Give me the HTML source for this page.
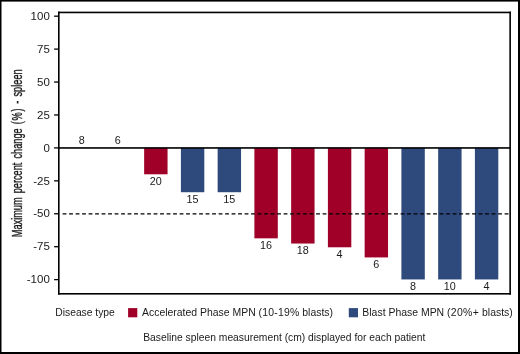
<!DOCTYPE html>
<html>
<head>
<meta charset="utf-8">
<title>Maximum percent change - spleen</title>
<style>
html,body{margin:0;padding:0;background:#fff;}
body{width:520px;height:354px;overflow:hidden;}
svg{display:block;}
text{font-family:"Liberation Sans",Arial,Helvetica,sans-serif;fill:#1a1a1a;}
.t{font-size:10.3px;text-anchor:end;}
.b{font-size:10.2px;text-anchor:middle;}
.l{font-size:10.45px;}
.c{font-size:10.3px;}
</style>
</head>
<body>
<svg width="520" height="354" viewBox="0 0 520 354">
<rect x="0" y="0" width="520" height="354" fill="#ffffff"/>
<!-- outer border -->
<rect x="0" y="0" width="520" height="1.6" fill="#000"/>
<rect x="0" y="0" width="1.5" height="354" fill="#000"/>
<rect x="518" y="0" width="2" height="354" fill="#000"/>
<rect x="0" y="352" width="520" height="2" fill="#000"/>

<!-- bars -->
<rect x="144.15" y="147.95" width="23.40" height="26.35" fill="#a00028"/>
<rect x="180.90" y="147.95" width="23.40" height="44.27" fill="#2e4a7c"/>
<rect x="217.65" y="147.95" width="23.40" height="44.27" fill="#2e4a7c"/>
<rect x="254.40" y="147.95" width="23.40" height="90.38" fill="#a00028"/>
<rect x="291.15" y="147.95" width="23.40" height="95.58" fill="#a00028"/>
<rect x="327.90" y="147.95" width="23.40" height="99.34" fill="#a00028"/>
<rect x="364.65" y="147.95" width="23.40" height="109.48" fill="#a00028"/>
<rect x="401.40" y="147.95" width="23.40" height="131.49" fill="#2e4a7c"/>
<rect x="438.15" y="147.95" width="23.40" height="131.49" fill="#2e4a7c"/>
<rect x="474.90" y="147.95" width="23.40" height="131.49" fill="#2e4a7c"/>
<!-- reference line -->
<line x1="62.6" y1="213.8" x2="509.5" y2="213.8" stroke="#000" stroke-width="1.35" stroke-dasharray="3.85 2.65"/>
<!-- zero line -->
<rect x="59" y="147.15" width="451" height="1.6" fill="#000"/>
<!-- frame -->
<rect x="58" y="11.65" width="452.95" height="1.6" fill="#000"/>
<rect x="58" y="11.65" width="1.6" height="282.95" fill="#000"/>
<rect x="509.35" y="11.65" width="1.6" height="282.95" fill="#000"/>
<rect x="58" y="293" width="452.95" height="1.6" fill="#000"/>
<!-- ticks and labels -->
<rect x="54.1" y="15.53" width="4.2" height="1.3" fill="#000"/>
<text class="t" transform="translate(49.8 19.88) scale(1.120 1)">100</text>
<rect x="54.1" y="48.46" width="4.2" height="1.3" fill="#000"/>
<text class="t" transform="translate(49.8 52.81) scale(1.120 1)">75</text>
<rect x="54.1" y="81.39" width="4.2" height="1.3" fill="#000"/>
<text class="t" transform="translate(49.8 85.74) scale(1.120 1)">50</text>
<rect x="54.1" y="114.32" width="4.2" height="1.3" fill="#000"/>
<text class="t" transform="translate(49.8 118.67) scale(1.120 1)">25</text>
<rect x="54.1" y="147.25" width="4.2" height="1.3" fill="#000"/>
<text class="t" transform="translate(49.8 151.60) scale(1.120 1)">0</text>
<rect x="54.1" y="180.18" width="4.2" height="1.3" fill="#000"/>
<text class="t" transform="translate(49.8 184.53) scale(1.120 1)">-25</text>
<rect x="54.1" y="213.11" width="4.2" height="1.3" fill="#000"/>
<text class="t" transform="translate(49.8 217.46) scale(1.120 1)">-50</text>
<rect x="54.1" y="246.04" width="4.2" height="1.3" fill="#000"/>
<text class="t" transform="translate(49.8 250.39) scale(1.120 1)">-75</text>
<rect x="54.1" y="278.97" width="4.2" height="1.3" fill="#000"/>
<text class="t" transform="translate(49.8 283.32) scale(1.120 1)">-100</text>
<!-- bar labels -->
<text class="b" transform="translate(81.70 144.00) scale(1.060 1)">8</text>
<text class="b" transform="translate(117.70 144.00) scale(1.060 1)">6</text>
<text class="b" transform="translate(155.85 184.70) scale(1.060 1)">20</text>
<text class="b" transform="translate(192.60 202.62) scale(1.060 1)">15</text>
<text class="b" transform="translate(229.35 202.62) scale(1.060 1)">15</text>
<text class="b" transform="translate(266.10 248.73) scale(1.060 1)">16</text>
<text class="b" transform="translate(302.85 253.93) scale(1.060 1)">18</text>
<text class="b" transform="translate(339.60 257.69) scale(1.060 1)">4</text>
<text class="b" transform="translate(376.35 267.83) scale(1.060 1)">6</text>
<text class="b" transform="translate(413.10 289.84) scale(1.060 1)">8</text>
<text class="b" transform="translate(449.85 289.84) scale(1.060 1)">10</text>
<text class="b" transform="translate(486.60 289.84) scale(1.060 1)">4</text>
<!-- y axis title -->
<text transform="translate(22.3 153.3) rotate(-90) scale(0.657 1)" text-anchor="middle" style="font-size:14px;word-spacing:2.4px;stroke:#1a1a1a;stroke-width:0.35px">Maximum percent change <tspan style="letter-spacing:1.1px">(%)</tspan> - spleen</text>
<!-- legend -->
<text class="c" x="55.3" y="316.2">Disease type</text>
<rect x="128.1" y="308.1" width="9.2" height="9.2" fill="#a00028"/>
<text class="l" x="142" y="316.2">Accelerated Phase MPN <tspan style="letter-spacing:0.19px">(10-19%</tspan> blasts)</text>
<rect x="348.8" y="308.1" width="9.2" height="9.2" fill="#2e4a7c"/>
<text class="l" x="362.35" y="316.2">Blast Phase MPN <tspan style="letter-spacing:0.32px">(20%+</tspan> blasts)</text>
<!-- caption -->
<text class="c" x="143.25" y="341">Baseline spleen measurement (cm) displayed for each patient</text>
</svg>
</body>
</html>
